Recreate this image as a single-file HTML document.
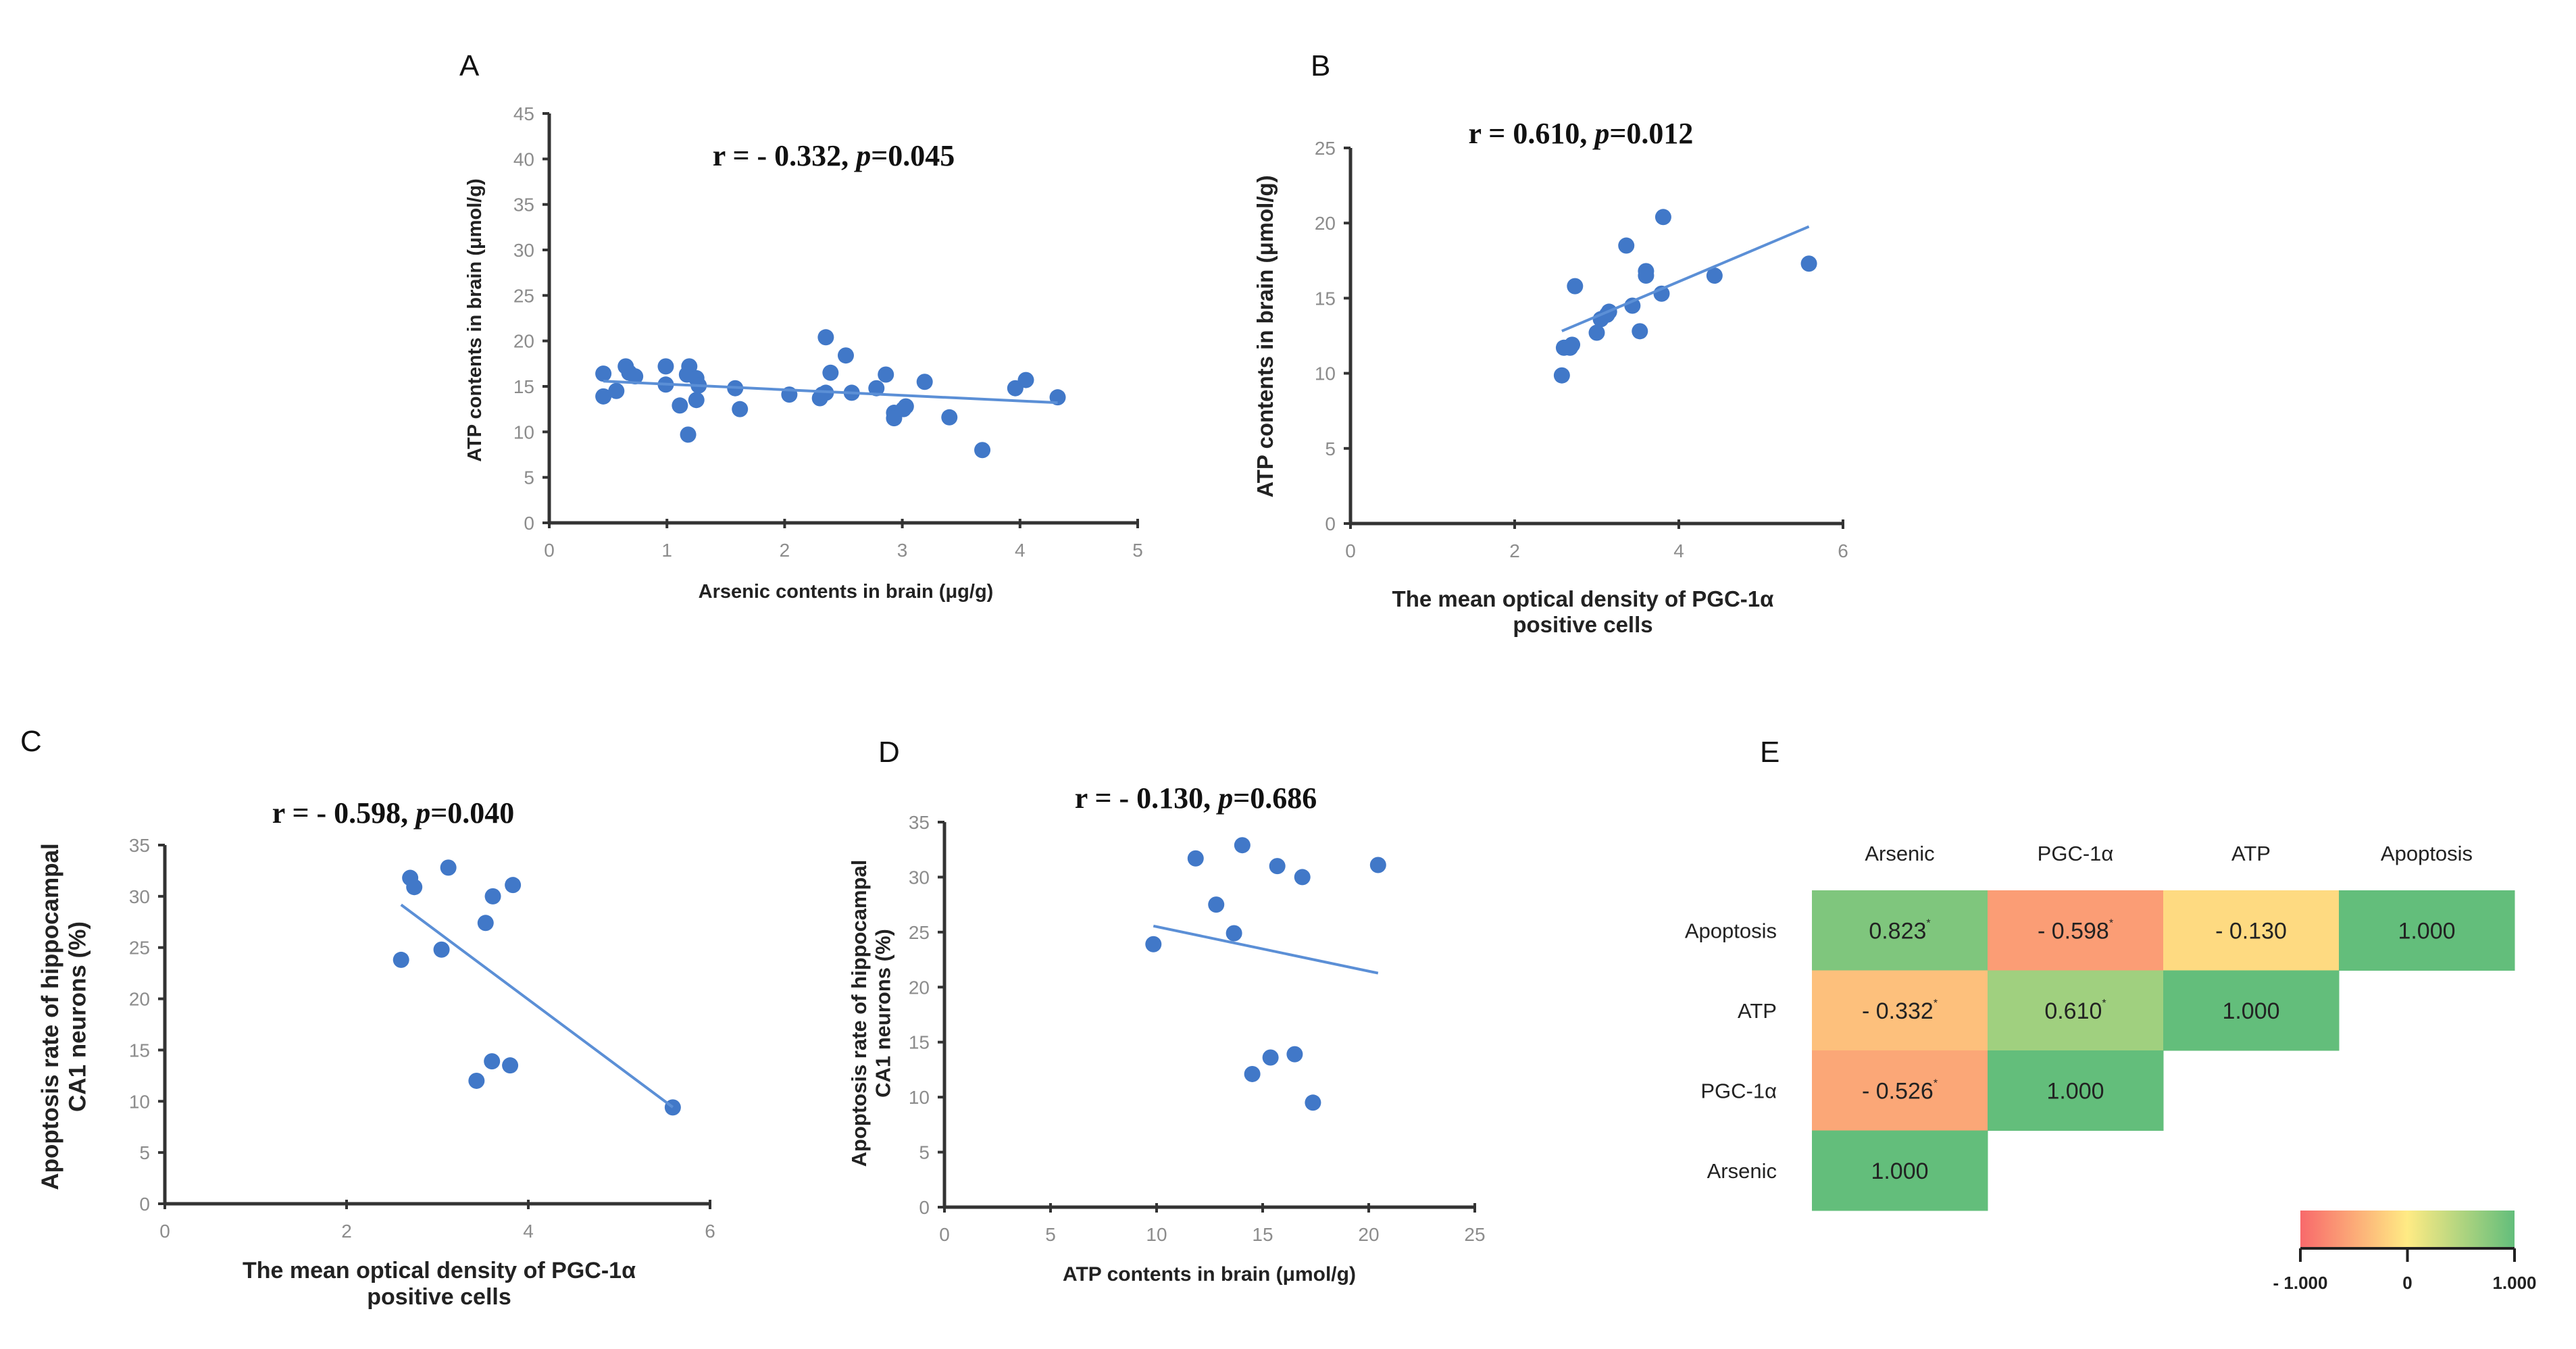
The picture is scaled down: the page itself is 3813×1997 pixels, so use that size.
<!DOCTYPE html>
<html><head><meta charset="utf-8">
<style>
html,body{margin:0;padding:0;background:#fff;}
svg{display:block;}
text{font-family:"Liberation Sans",sans-serif;}
.tick{fill:#8c8c8c;font-size:28px;}
.ttl{font-family:"Liberation Serif",serif;font-weight:bold;font-size:44px;fill:#111;}
.ax{font-weight:bold;fill:#222;}
.lab{font-size:44px;fill:#111;}
</style></head>
<body>
<svg id="fig" width="3813" height="1997" viewBox="0 0 3813 1997" xmlns="http://www.w3.org/2000/svg"></svg>
<script>
// Panel A data
const aX=[0.46,0.46,0.57,0.65,0.68,0.73,0.99,0.99,1.11,1.18,1.19,1.17,1.25,1.25,1.27,1.58,1.62,2.04,2.30,2.32,2.35,2.39,2.35,2.52,2.57,2.78,2.86,2.93,2.93,3.01,3.03,3.19,3.40,3.68,3.96,4.05,4.32];
const aY=[16.4,13.9,14.5,17.2,16.5,16.1,17.2,15.2,12.9,9.7,17.2,16.3,15.9,13.5,15.1,14.8,12.5,14.1,13.7,14.1,20.4,16.5,14.3,18.4,14.3,14.8,16.3,12.1,11.5,12.5,12.8,15.5,11.6,8.0,14.8,15.7,13.8];
const aXTicks=[0,1,2,3,4,5];
const aYTicks=[0,5,10,15,20,25,30,35,40,45];
// Panel B data
const bX=[2.575,2.60,2.70,2.675,2.735,3.00,3.05,3.125,3.15,3.36,3.435,3.525,3.60,3.60,3.79,3.81,4.435,5.585];
const bY=[9.86,11.7,11.9,11.7,15.8,12.7,13.6,13.9,14.1,18.5,14.5,12.8,16.8,16.5,15.3,20.4,16.5,17.3];
const bXTicks=[0,2,4,6];
const bYTicks=[0,5,10,15,20,25];
// Panel C data
const cX=[2.60,2.70,2.745,3.12,3.045,3.53,3.61,3.83,3.60,3.80,3.43,5.59];
const cY=[23.8,31.8,30.9,32.8,24.8,27.4,30.0,31.1,13.9,13.5,12.0,9.4];
const cXTicks=[0,2,4,6];
const cYTicks=[0,5,10,15,20,25,30,35];
// Panel D data
const dX=[9.85,11.84,12.81,13.65,14.04,15.69,16.87,20.44,14.51,15.37,16.51,17.37];
const dY=[23.9,31.7,27.5,24.9,32.9,31.0,30.0,31.1,12.1,13.6,13.9,9.5];
const dXTicks=[0,5,10,15,20,25];
const dYTicks=[0,5,10,15,20,25,30,35];
// Panel E data
const eCols=["Arsenic","PGC-1\u03b1","ATP","Apoptosis"];
const eRows=["Apoptosis","ATP","PGC-1\u03b1","Arsenic"];
const eVals=[[0.823,-0.598,-0.130,1.000],[-0.332,0.610,1.000,null],[-0.526,1.000,null,null],[1.000,null,null,null]];
const eLabels=[["0.823","- 0.598","- 0.130","1.000"],["- 0.332","0.610","1.000",""],["- 0.526","1.000","",""],["1.000","",""]];
const eSig=[[true,true,false,false],[true,true,false,false],[true,false,false,false],[false,false,false,false]];
const eScaleTicks=[-1,0,1];
const eScaleLabels=["- 1.000","0","1.000"];

const NS="http://www.w3.org/2000/svg";
const svg=document.getElementById('fig');
function mk(tag,attrs,parent,txt){const e=document.createElementNS(NS,tag);for(const k in attrs)e.setAttribute(k,attrs[k]);if(txt!==undefined)e.textContent=txt;(parent||svg).appendChild(e);return e;}

function scatter(p){
  const g=mk('g',{});
  
  
  const sx=v=>p.x0+(v-p.xmin)/(p.xmax-p.xmin)*(p.x1-p.x0);
  const sy=v=>p.y0-(v-p.ymin)/(p.ymax-p.ymin)*(p.y0-p.y1);
  p.yt.forEach(v=>{
    const l=mk('line',{x1:p.x0-10,x2:p.x0,y1:sy(v),y2:sy(v),stroke:'#333','stroke-width':4},g);
    
    
    const t=mk('text',{x:p.x0-22,y:sy(v)+10,'text-anchor':'end',class:'tick'},g,String(v));
    
    
  });
  p.xt.forEach(v=>{
    const l=mk('line',{x1:sx(v),x2:sx(v),y1:p.y0-6,y2:p.y0+8,stroke:'#333','stroke-width':4},g);
    
    
    const t=mk('text',{x:sx(v),y:p.y0+50,'text-anchor':'middle',class:'tick'},g,String(v));
    
    
  });
  const ya=mk('line',{x1:p.x0,x2:p.x0,y1:p.y1,y2:p.y0,stroke:'#333','stroke-width':5},g);
  
  
  const xa=mk('line',{x1:p.x0,x2:p.x1,y1:p.y0,y2:p.y0,stroke:'#333','stroke-width':5},g);
  
  
  p.X.forEach((v,i)=>{
    const c=mk('circle',{cx:sx(v),cy:sy(p.Y[i]),r:12,fill:'#4178c8'},g);
    
    
  });
  const n=p.X.length;let mx=0,my=0;p.X.forEach((v,i)=>{mx+=v;my+=p.Y[i];});mx/=n;my/=n;
  let sxy=0,sxx=0;p.X.forEach((v,i)=>{sxy+=(v-mx)*(p.Y[i]-my);sxx+=(v-mx)*(v-mx);});
  const b=sxy/sxx,a=my-b*mx;const lo=Math.min(...p.X),hi=Math.max(...p.X);
  const tl=mk('line',{x1:sx(lo),y1:sy(a+b*lo),x2:sx(hi),y2:sy(a+b*hi),stroke:'#5b8fd6','stroke-width':4},g);
  
  
  const tt=mk('text',{x:p.tx,y:p.ty,'text-anchor':'middle',class:'ttl'},g);
  
  
  mk('tspan',{},tt,p.r+', ');
  mk('tspan',{'font-style':'italic'},tt,'p');
  mk('tspan',{},tt,'='+p.pv);
  const L=mk('text',{x:p.lx,y:p.ly,class:'lab'},g,p.letter);
  
  
  p.xtl.forEach((s,i)=>{
    const t=mk('text',{x:p.xtx,y:p.xty+i*p.xfs*1.15,'text-anchor':'middle',class:'ax','font-size':p.xfs},g,s);
    
    
  });
  p.ytl.forEach((s,i)=>{
    const x=p.ytx+i*p.yfs*1.15;
    const t=mk('text',{x:x,y:p.yty,'text-anchor':'middle',class:'ax','font-size':p.yfs,transform:'rotate(-90 '+x+' '+p.yty+')'},g,s);
    
    
  });
}

scatter({name:'panel-a',X:aX,Y:aY,xt:aXTicks,yt:aYTicks,xmin:0,xmax:5,ymin:0,ymax:45,x0:813,x1:1684,y0:774,y1:168,
  tx:1234,ty:245,r:'r = - 0.332',pv:'0.045',letter:'A',lx:680,ly:112,
  xtl:['Arsenic contents in brain (\u03bcg/g)'],xtx:1252,xty:885,xfs:29,ytl:['ATP contents in brain (\u03bcmol/g)'],ytx:712,yty:474,yfs:29});
scatter({name:'panel-b',X:bX,Y:bY,xt:bXTicks,yt:bYTicks,xmin:0,xmax:6,ymin:0,ymax:25,x0:1999,x1:2728,y0:775,y1:219,
  tx:2340,ty:212,r:'r = 0.610',pv:'0.012',letter:'B',lx:1940,ly:112,
  xtl:['The mean optical density of PGC-1\u03b1','positive cells'],xtx:2343,xty:898,xfs:33,ytl:['ATP contents in brain (\u03bcmol/g)'],ytx:1884,yty:498,yfs:33});
scatter({name:'panel-c',X:cX,Y:cY,xt:cXTicks,yt:cYTicks,xmin:0,xmax:6,ymin:0,ymax:35,x0:244,x1:1051,y0:1782,y1:1251,
  tx:582,ty:1218,r:'r = - 0.598',pv:'0.040',letter:'C',lx:30,ly:1112,
  xtl:['The mean optical density of PGC-1\u03b1','positive cells'],xtx:650,xty:1892,xfs:34,ytl:['Apoptosis rate of hippocampal','CA1 neurons (%)'],ytx:86,yty:1505,yfs:35});
scatter({name:'panel-d',X:dX,Y:dY,xt:dXTicks,yt:dYTicks,xmin:0,xmax:25,ymin:0,ymax:35,x0:1398,x1:2183,y0:1787,y1:1217,
  tx:1770,ty:1196,r:'r = - 0.130',pv:'0.686',letter:'D',lx:1300,ly:1128,
  xtl:['ATP contents in brain (\u03bcmol/g)'],xtx:1790,xty:1896,xfs:30,ytl:['Apoptosis rate of hippocampal','CA1 neurons (%)'],ytx:1282,yty:1500,yfs:31});

function lerp(a,b,t){return Math.round(a+(b-a)*t);}
function colorFor(v){
  const R=[248,105,107],Y=[255,235,132],G=[99,190,123];
  let c;if(v<0){const t=v+1;c=R.map((x,i)=>lerp(x,Y[i],t));}else{c=Y.map((x,i)=>lerp(x,G[i],v));}
  return 'rgb('+c.join(',')+')';
}
const hm=mk('g',{});


const HX=2682,HY=1318,CW=260,CH=118.5;
const EL=mk('text',{x:2605,y:1128,class:'lab'},hm,'E');


eCols.forEach((c,j)=>{
  const t=mk('text',{x:HX+CW*j+CW/2,y:1274,'text-anchor':'middle','font-size':31,fill:'#222'},hm,c);
  
  
});
eRows.forEach((r,i)=>{
  const t=mk('text',{x:2630,y:HY+CH*i+CH/2+11,'text-anchor':'end','font-size':31,fill:'#222'},hm,r);
  
  
  eVals[i].forEach((v,j)=>{
    if(v===null)return;
    const rc=mk('rect',{x:HX+CW*j,y:HY+CH*i,width:CW+0.5,height:CH+0.5,fill:colorFor(v)},hm);
    
    
    const tx=mk('text',{x:HX+CW*j+CW/2,y:HY+CH*i+CH/2+12,'text-anchor':'middle','font-size':34,fill:'#222'},hm,eLabels[i][j]);
    
    
    if(eSig[i][j]){mk('tspan',{'font-size':16,dy:-18},tx,'*');}
  });
});
const defs=mk('defs',{});
const lg=mk('linearGradient',{id:'cs',x1:0,x2:1,y1:0,y2:0},defs);
mk('stop',{offset:'0','stop-color':colorFor(-1)},lg);
mk('stop',{offset:'0.5','stop-color':colorFor(0)},lg);
mk('stop',{offset:'1','stop-color':colorFor(1)},lg);
const CX0=3405,CX1=3722,CY=1792;
const cb=mk('rect',{x:CX0,y:CY,width:CX1-CX0,height:56,fill:'url(#cs)'},hm);


const cl=mk('line',{x1:CX0,x2:CX1,y1:CY+56,y2:CY+56,stroke:'#222','stroke-width':4},hm);


eScaleTicks.forEach((v,k)=>{
  const x=CX0+(v+1)/2*(CX1-CX0);
  const l=mk('line',{x1:x,x2:x,y1:CY+56,y2:CY+76,stroke:'#222','stroke-width':4},hm);
  
  
  const t=mk('text',{x:x,y:CY+116,'text-anchor':'middle','font-size':26,'font-weight':'bold',fill:'#222'},hm,eScaleLabels[k]);
  
  
});
</script>
</body></html>
